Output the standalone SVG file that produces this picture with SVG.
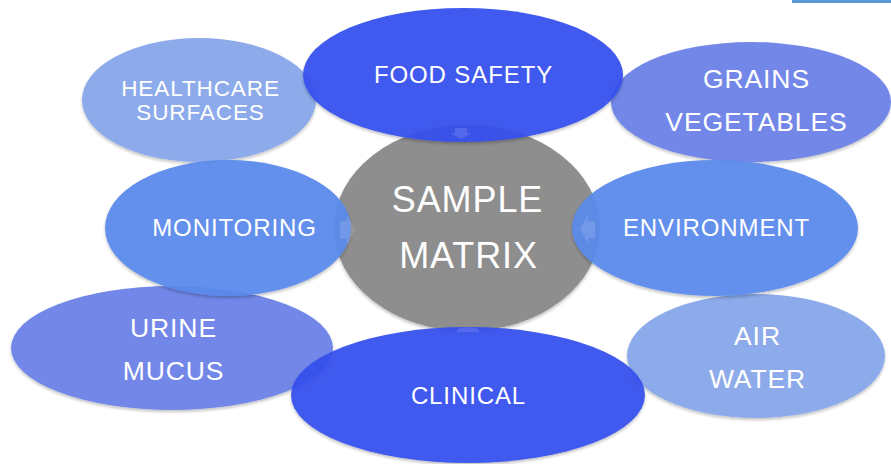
<svg xmlns="http://www.w3.org/2000/svg" width="891" height="464" viewBox="0 0 891 464">
<defs>
<filter id="sh" x="-10%" y="-10%" width="120%" height="125%">
<feDropShadow dx="0" dy="2" stdDeviation="1.5" flood-color="#000" flood-opacity="0.25"/>
</filter>
<style>
.e{filter:url(#sh);opacity:0.94}
.dark{fill:#3550ED}
.mid{fill:#6A80E7}
.light{fill:#86A6E9}
.sky{fill:#5A8AEB}
.core{fill:#8E8E8E}
text{font-family:"Liberation Sans",Arial,sans-serif;fill:#fff;text-anchor:middle;letter-spacing:0.9px}
.arr{fill:#ffffff;opacity:0.13}
</style>
</defs>
<rect width="891" height="464" fill="#fff"/>
<rect x="792" y="0" width="99" height="3" fill="#5B9BD5"/>
<g id="healthcare">
<ellipse class="e light" cx="199" cy="100" rx="117" ry="62"/>
<text font-size="22.5" x="200.5" y="96">HEALTHCARE</text>
<text font-size="22.5" x="200.5" y="120">SURFACES</text>
</g>
<g id="grains">
<ellipse class="e mid" cx="751" cy="102" rx="140" ry="60"/>
<text font-size="26.5" x="756.5" y="88">GRAINS</text>
<text font-size="26.5" x="756.5" y="131">VEGETABLES</text>
</g>
<g id="urine">
<ellipse class="e mid" cx="172" cy="348" rx="161" ry="62"/>
<text font-size="26.5" x="173.5" y="337">URINE</text>
<text font-size="26.5" x="173.5" y="380">MUCUS</text>
</g>
<g id="air">
<ellipse class="e light" cx="756" cy="356" rx="129" ry="62"/>
<text font-size="26.5" x="757.5" y="345">AIR</text>
<text font-size="26.5" x="757.5" y="388">WATER</text>
</g>
<g id="sample-matrix">
<ellipse class="e core" cx="467" cy="228" rx="133" ry="103" style="opacity:1"/>
<text font-size="36" x="467.5" y="212">SAMPLE</text>
<text font-size="36" x="468.5" y="268">MATRIX</text>
</g>
<g id="food-safety">
<ellipse class="e dark" cx="463" cy="75" rx="160" ry="67"/>
<text font-size="24" x="463.5" y="83">FOOD SAFETY</text>
</g>
<g id="monitoring">
<ellipse class="e sky" cx="228" cy="228" rx="123" ry="68"/>
<text font-size="24" x="234.5" y="236">MONITORING</text>
</g>
<g id="environment">
<ellipse class="e sky" cx="715" cy="228" rx="143" ry="68"/>
<text font-size="24" x="716.5" y="236">ENVIRONMENT</text>
</g>
<g id="clinical">
<ellipse class="e dark" cx="468" cy="395" rx="177" ry="68"/>
<text font-size="24" x="468.5" y="404">CLINICAL</text>
</g>
<g id="connectors">
<polygon class="arr" points="455,128 467,128 467,133 472,133 461,139 450,133 455,133"/>
<polygon class="arr" points="340,221 347,221 347,215 355,230 347,245 347,239 340,239"/>
<polygon class="arr" points="595,221 588,221 588,214 580,229 588,244 588,238 595,238"/>
<polygon class="arr" points="457,332 479,332 479,329 468,327 457,329"/>
</g>
</svg>
